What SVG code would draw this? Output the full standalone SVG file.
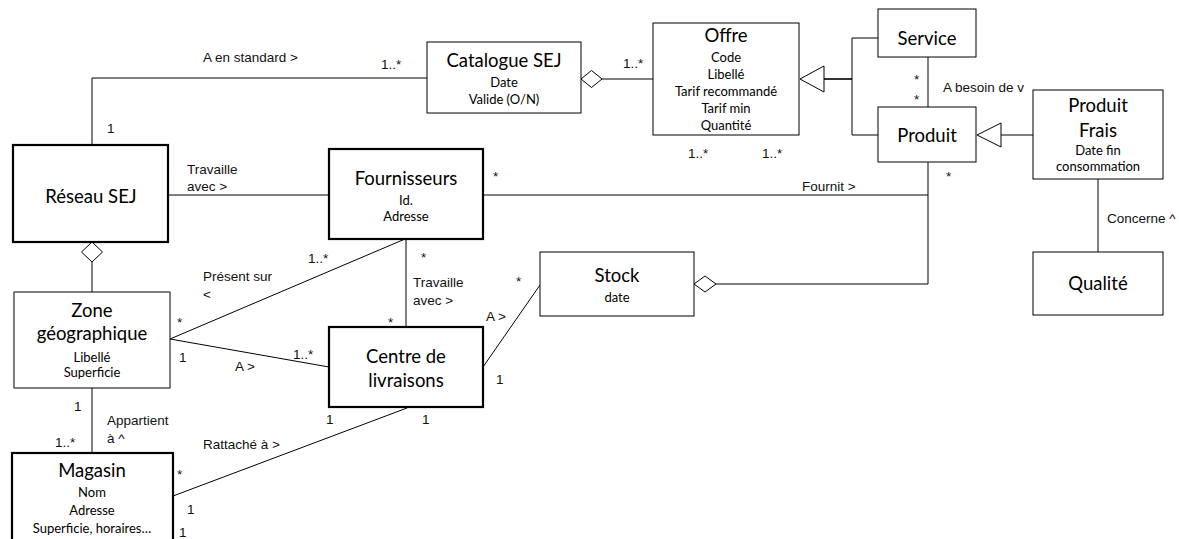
<svg xmlns="http://www.w3.org/2000/svg" width="1179" height="539" viewBox="0 0 1179 539">
<style>
.box{fill:#fff;stroke:#000;stroke-width:1}
.thick{fill:#fff;stroke:#000;stroke-width:2.2}
.ln{fill:none;stroke:#000;stroke-width:1}
.dm{fill:#fff;stroke:#000;stroke-width:1}
.t{font-family:Lato,"Open Sans",sans-serif;font-size:18.5px;text-anchor:middle;fill:#000}
.a{font-family:Lato,"Open Sans",sans-serif;font-size:13px;text-anchor:middle;fill:#000}
.l{font-family:"Liberation Sans",Arial,sans-serif;font-size:13.5px;fill:#111}
</style>
<rect width="1179" height="539" fill="#fff"/>
<g id="connectors">
<polyline class="ln" points="92,145 92,78 427,78"/>
<line class="ln" x1="602" y1="79" x2="653" y2="79"/>
<polygon class="dm" points="581,79 591.5,70.5 602,79 591.5,87.5"/>
<line class="ln" x1="824" y1="79" x2="852" y2="79" style="stroke-width:1.6"/>
<polyline class="ln" points="878,38 852,38 852,135 878,135"/>
<polygon class="dm" points="800,79 824,66 824,92"/>
<line class="ln" x1="928" y1="57" x2="928" y2="107"/>
<line class="ln" x1="1001" y1="135" x2="1033" y2="135"/>
<polygon class="dm" points="977,135 1001,123 1001,147"/>
<line class="ln" x1="1098" y1="179" x2="1098" y2="252"/>
<line class="ln" x1="168" y1="195" x2="329" y2="195"/>
<line class="ln" x1="483" y1="195" x2="928" y2="195"/>
<polyline class="ln" points="928,162 928,284 716,284"/>
<polygon class="dm" points="694,284 705,276 716,284 705,292"/>
<line class="ln" x1="406" y1="239" x2="406" y2="327"/>
<line class="ln" x1="483" y1="367" x2="540" y2="285"/>
<line class="ln" x1="92" y1="262" x2="92" y2="292"/>
<polygon class="dm" points="92,242 102.5,252 92,262 81.5,252"/>
<line class="ln" x1="170" y1="339" x2="405" y2="239"/>
<line class="ln" x1="170" y1="339" x2="329" y2="367"/>
<line class="ln" x1="92" y1="388" x2="92" y2="453"/>
<line class="ln" x1="173" y1="496" x2="407" y2="408"/>
</g>
<g id="labels">
<text class="l" x="203" y="62">A en standard &gt;</text>
<text class="l" x="381" y="69">1..*</text>
<text class="l" x="107" y="133">1</text>
<text class="l" x="623" y="68">1..*</text>
<text class="l" x="688" y="158">1..*</text>
<text class="l" x="762" y="158">1..*</text>
<text class="l" x="914" y="84">*</text>
<text class="l" x="914" y="104">*</text>
<text class="l" x="943" y="92">A besoin de v</text>
<text class="l" x="802" y="191">Fournit &gt;</text>
<text class="l" x="946" y="181">*</text>
<text class="l" x="1107" y="223">Concerne ^</text>
<text class="l" x="187" y="174">Travaille</text>
<text class="l" x="187" y="191">avec &gt;</text>
<text class="l" x="493" y="181">*</text>
<text class="l" x="308" y="263">1..*</text>
<text class="l" x="421" y="262">*</text>
<text class="l" x="413" y="287">Travaille</text>
<text class="l" x="413" y="305">avec &gt;</text>
<text class="l" x="388" y="327">*</text>
<text class="l" x="516" y="286">*</text>
<text class="l" x="486" y="321">A &gt;</text>
<text class="l" x="496" y="384">1</text>
<text class="l" x="203" y="281">Présent sur</text>
<text class="l" x="203" y="299">&lt;</text>
<text class="l" x="177" y="327">*</text>
<text class="l" x="179" y="362">1</text>
<text class="l" x="235" y="371">A &gt;</text>
<text class="l" x="293" y="359">1..*</text>
<text class="l" x="74" y="411">1</text>
<text class="l" x="107" y="425">Appartient</text>
<text class="l" x="107" y="443">à ^</text>
<text class="l" x="55" y="447">1..*</text>
<text class="l" x="203" y="449">Rattaché à &gt;</text>
<text class="l" x="177" y="479">*</text>
<text class="l" x="187" y="514">1</text>
<text class="l" x="179" y="537">1</text>
<text class="l" x="326" y="424">1</text>
<text class="l" x="422" y="424">1</text>
</g>
<g id="reseau">
<rect class="thick" x="13" y="145" width="155" height="97"/>
<text class="t" x="91" y="203">Réseau SEJ</text>
</g>
<g id="catalogue">
<rect class="box" x="427" y="42" width="154" height="71"/>
<text class="t" x="504" y="67">Catalogue SEJ</text>
<text class="a" x="504" y="87">Date</text>
<text class="a" x="504" y="104">Valide (O/N)</text>
</g>
<g id="offre">
<rect class="box" x="653" y="23" width="146" height="112"/>
<text class="t" x="726" y="42">Offre</text>
<text class="a" x="726" y="62">Code</text>
<text class="a" x="726" y="79">Libellé</text>
<text class="a" x="726" y="96">Tarif recommandé</text>
<text class="a" x="726" y="113">Tarif min</text>
<text class="a" x="726" y="130">Quantité</text>
</g>
<g id="service">
<rect class="box" x="878" y="9" width="98" height="48"/>
<text class="t" x="927" y="45">Service</text>
</g>
<g id="produit">
<rect class="box" x="878" y="107" width="98" height="55"/>
<text class="t" x="927" y="142">Produit</text>
</g>
<g id="produit-frais">
<rect class="box" x="1033" y="90" width="130" height="89"/>
<text class="t" x="1098" y="112">Produit</text>
<text class="t" x="1098" y="137">Frais</text>
<text class="a" x="1098" y="155">Date fin</text>
<text class="a" x="1098" y="171">consommation</text>
</g>
<g id="qualite">
<rect class="box" x="1033" y="252" width="130" height="63"/>
<text class="t" x="1098" y="290">Qualité</text>
</g>
<g id="fournisseurs">
<rect class="thick" x="329" y="149" width="154" height="90"/>
<text class="t" x="406" y="185">Fournisseurs</text>
<text class="a" x="406" y="205">Id.</text>
<text class="a" x="406" y="221">Adresse</text>
</g>
<g id="stock">
<rect class="box" x="540" y="252" width="154" height="64"/>
<text class="t" x="617" y="282">Stock</text>
<text class="a" x="617" y="302">date</text>
</g>
<g id="centre">
<rect class="thick" x="329" y="327" width="154" height="80"/>
<text class="t" x="406" y="363">Centre de</text>
<text class="t" x="406" y="387">livraisons</text>
</g>
<g id="zone">
<rect class="box" x="14" y="292" width="156" height="96"/>
<text class="t" x="92" y="317">Zone</text>
<text class="t" x="92" y="340">géographique</text>
<text class="a" x="92" y="362">Libellé</text>
<text class="a" x="92" y="377">Superficie</text>
</g>
<g id="magasin">
<rect class="thick" x="12" y="453" width="161" height="90"/>
<text class="t" x="92" y="477">Magasin</text>
<text class="a" x="92" y="497">Nom</text>
<text class="a" x="92" y="515">Adresse</text>
<text class="a" x="92" y="533">Superficie, horaires…</text>
</g>
</svg>
